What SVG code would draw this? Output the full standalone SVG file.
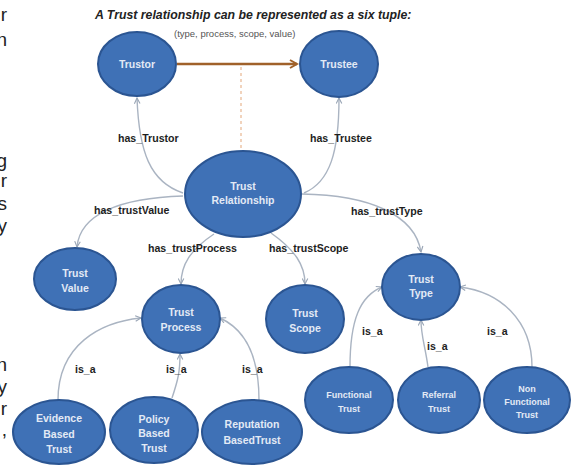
<svg xmlns="http://www.w3.org/2000/svg" width="573" height="466" viewBox="0 0 573 466">
<style>
.node{fill:#3f71b6;stroke:#2b5592;stroke-width:2}
.nt{font-family:"Liberation Sans",Arial,sans-serif;font-weight:bold;font-size:10.5px;fill:#e3eaf5;text-anchor:middle}
.nts{font-family:"Liberation Sans",Arial,sans-serif;font-weight:bold;font-size:9px;fill:#e3eaf5;text-anchor:middle}
.edge{fill:none;stroke:#aab4c2;stroke-width:1.4;marker-end:url(#ah)}
.el{font-family:"Liberation Sans",Arial,sans-serif;font-weight:bold;font-size:10.6px;fill:#1e1e1e}
.frag{font-family:"Liberation Sans",Arial,sans-serif;font-size:19px;fill:#222;text-anchor:end}
</style>
<defs>
<marker id="ah" viewBox="0 0 10 10" refX="9" refY="5" markerWidth="7" markerHeight="7" orient="auto" markerUnits="userSpaceOnUse">
<path d="M1,1 L9,5 L1,9" fill="none" stroke="#9aa6b6" stroke-width="1.6"/>
</marker>
<marker id="ahb" viewBox="0 0 10 10" refX="8" refY="5" markerWidth="4" markerHeight="4" orient="auto">
<path d="M1,1 L8,5 L1,9" fill="none" stroke="#a0612a" stroke-width="2"/>
</marker>
</defs>
<rect width="573" height="466" fill="#ffffff"/>
<g id="fragments">
<text class="frag" x="7" y="21">r</text>
<text class="frag" x="7" y="46">n</text>
<text class="frag" x="7" y="167">g</text>
<text class="frag" x="7" y="187">r</text>
<text class="frag" x="7" y="210">s</text>
<text class="frag" x="7" y="232">y</text>
<text class="frag" x="7" y="371">n</text>
<text class="frag" x="7" y="393">y</text>
<text class="frag" x="7" y="415">r</text>
<text class="frag" x="7" y="436">,</text>
</g>
<g id="title">
<text x="95" y="19" font-family="Liberation Sans,Arial,sans-serif" font-weight="bold" font-style="italic" font-size="12.3" fill="#222">A Trust relationship can be represented  as a six tuple:</text>
<text x="174" y="37" font-family="Liberation Sans,Arial,sans-serif" font-size="9.5" fill="#555">(type, process, scope, value)</text>
</g>
<g id="connectors">
<path d="M177,64 L297,64" fill="none" stroke="#a0612a" stroke-width="2.5" marker-end="url(#ahb)"/>
<path d="M241,67 L241,150" fill="none" stroke="#e3a77a" stroke-width="1" stroke-dasharray="3,3"/>
<path class="edge" d="M183,193 C150,182 139,152 137,98"/>
<path class="edge" d="M304,193 C330,182 339,152 339,98"/>
<path class="edge" d="M183,196 C120,198 80,214 77,247"/>
<path class="edge" d="M214,234 C190,250 181,265 181,284"/>
<path class="edge" d="M271,233 C295,250 305,265 305,284"/>
<path class="edge" d="M302,194 C370,195 415,215 421,252"/>
<path class="edge" d="M58,400 C58,345 100,322 141,318"/>
<path class="edge" d="M172,398 C178,380 180,372 180,354"/>
<path class="edge" d="M259,400 C259,350 242,328 220,318"/>
<path class="edge" d="M350,367 C350,320 360,296 382,287"/>
<path class="edge" d="M428,367 C425,345 421,336 421,320"/>
<path class="edge" d="M532,367 C532,320 500,292 460,287"/>
<text class="el" x="118" y="142">has_Trustor</text>
<text class="el" x="310" y="142">has_Trustee</text>
<text class="el" x="94" y="214">has_trustValue</text>
<text class="el" x="148" y="252">has_trustProcess</text>
<text class="el" x="269" y="252">has_trustScope</text>
<text class="el" x="351" y="215">has_trustType</text>
<text class="el" x="75" y="373">is_a</text>
<text class="el" x="166" y="373">is_a</text>
<text class="el" x="242" y="373">is_a</text>
<text class="el" x="362" y="335">is_a</text>
<text class="el" x="427" y="350">is_a</text>
<text class="el" x="487" y="335">is_a</text>
</g>
<g id="trustor"><ellipse class="node" cx="137" cy="64" rx="39" ry="32"/><text class="nt" x="137" y="68">Trustor</text></g>
<g id="trustee"><ellipse class="node" cx="339" cy="64" rx="39" ry="33"/><text class="nt" x="339" y="68">Trustee</text></g>
<g id="relationship"><ellipse class="node" cx="243" cy="194" rx="58" ry="43"/><text class="nt" x="243" y="190">Trust</text><text class="nt" x="243" y="204">Relationship</text></g>
<g id="value"><ellipse class="node" cx="75" cy="279" rx="41" ry="31"/><text class="nt" x="75" y="277">Trust</text><text class="nt" x="75" y="292">Value</text></g>
<g id="process"><ellipse class="node" cx="181" cy="319" rx="39" ry="34"/><text class="nt" x="181" y="316">Trust</text><text class="nt" x="181" y="331">Process</text></g>
<g id="scope"><ellipse class="node" cx="305" cy="319" rx="39" ry="34"/><text class="nt" x="305" y="317">Trust</text><text class="nt" x="305" y="332">Scope</text></g>
<g id="type"><ellipse class="node" cx="421" cy="287" rx="39" ry="33"/><text class="nt" x="421" y="283">Trust</text><text class="nt" x="421" y="297">Type</text></g>
<g id="evidence"><ellipse class="node" cx="59" cy="432" rx="46" ry="32"/><text class="nt" x="59" y="422">Evidence</text><text class="nt" x="59" y="438">Based</text><text class="nt" x="59" y="453">Trust</text></g>
<g id="policy"><ellipse class="node" cx="154" cy="430" rx="44" ry="33"/><text class="nt" x="154" y="423">Policy</text><text class="nt" x="154" y="437">Based</text><text class="nt" x="154" y="452">Trust</text></g>
<g id="reputation"><ellipse class="node" cx="252" cy="432" rx="50" ry="32"/><text class="nt" x="252" y="428">Reputation</text><text class="nt" x="252" y="444">BasedTrust</text></g>
<g id="functional"><ellipse class="node" cx="349" cy="400" rx="44" ry="33"/><text class="nts" x="349" y="398">Functional</text><text class="nts" x="349" y="412">Trust</text></g>
<g id="referral"><ellipse class="node" cx="439" cy="400" rx="41" ry="33"/><text class="nts" x="439" y="398">Referral</text><text class="nts" x="439" y="412">Trust</text></g>
<g id="nonfunctional"><ellipse class="node" cx="527" cy="400" rx="43" ry="33"/><text class="nts" x="527" y="392">Non</text><text class="nts" x="527" y="405">Functional</text><text class="nts" x="527" y="418">Trust</text></g>
</svg>
